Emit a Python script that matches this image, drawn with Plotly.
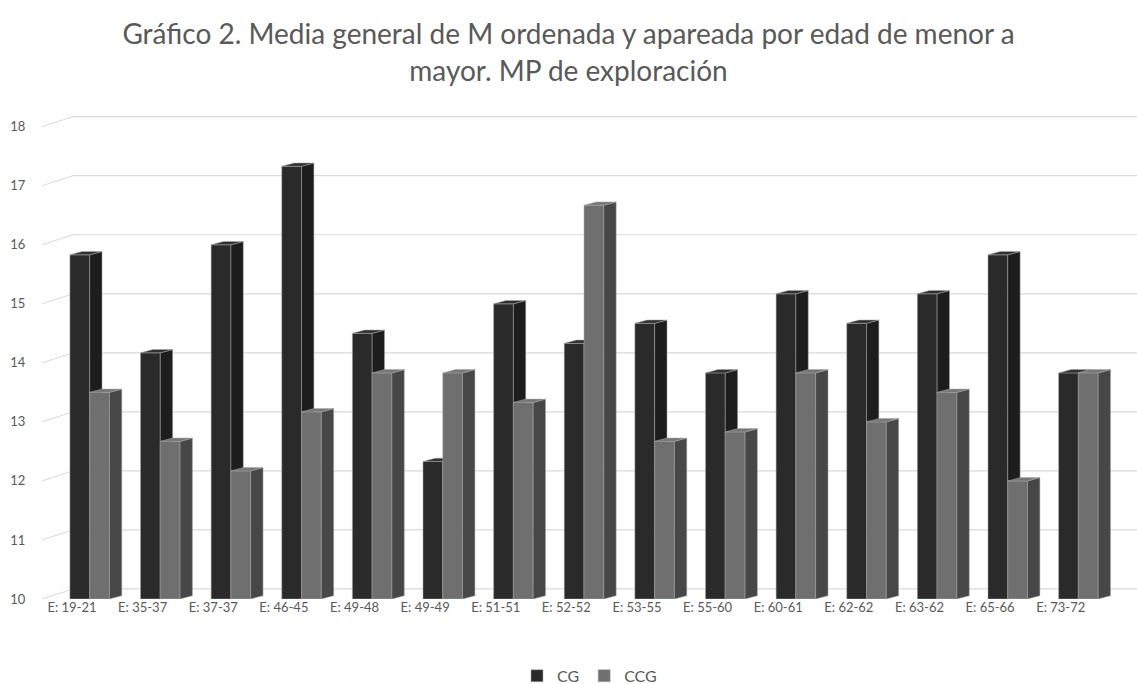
import plotly.graph_objects as go

categories = ["E: 19-21", "E: 35-37", "E: 37-37", "E: 46-45", "E: 49-48", "E: 49-49",
              "E: 51-51", "E: 52-52", "E: 53-55", "E: 55-60", "E: 60-61", "E: 62-62",
              "E: 63-62", "E: 65-66", "E: 73-72"]
cg_values = [15.83, 14.17, 16.00, 17.33, 14.50, 12.33, 15.00, 14.33, 14.67, 13.83,
             15.17, 14.67, 15.17, 15.83, 13.83]
ccg_values = [13.50, 12.67, 12.17, 13.17, 13.83, 13.83, 13.33, 16.67, 12.67, 12.83,
              13.83, 13.00, 13.50, 12.00, 13.83]
y_ticks = [10, 11, 12, 13, 14, 15, 16, 17, 18]
series_names = ["CG", "CCG"]

# style / geometry constants (not data)
BASE = 10
FRONT_W = 0.28
DEPTH_X = 0.175   # side-face depth in category units
DEPTH_Y = 0.056   # side-face rise in value units
OFFSETS = [-0.03, 0.25]
FRONT_COL = ["#2a2a2a", "#6f6f6f"]
SIDE_COL = ["#1d1d1d", "#474747"]
TOP_COL = ["#303030", "#767676"]
EDGE = "#a8a8a8"
GRID_RISE = 0.17
GRID_START = 0.0283

xs = list(range(len(categories)))
fig = go.Figure()

for k, (name, vals) in enumerate(zip(series_names, [cg_values, ccg_values])):
    xa = "x" if k == 0 else "x2"
    fig.add_trace(go.Bar(
        x=xs, y=[v - BASE for v in vals], base=BASE, name=name,
        offset=OFFSETS[k], width=FRONT_W, xaxis=xa, yaxis="y",
        marker=dict(color=FRONT_COL[k], line=dict(color=EDGE, width=0.5)),
        hoverinfo="skip",
    ))
    sx, sy, tx, ty = [], [], [], []
    for i, v in zip(xs, vals):
        x0 = i + OFFSETS[k]
        x1 = x0 + FRONT_W
        sx += [x1, x1 + DEPTH_X, x1 + DEPTH_X, x1, x1, None]
        sy += [BASE, BASE + DEPTH_Y, v + DEPTH_Y, v, BASE, None]
        tx += [x0, x0 + DEPTH_X, x1 + DEPTH_X, x1, x0, None]
        ty += [v, v + DEPTH_Y, v + DEPTH_Y, v, v, None]
    fig.add_trace(go.Scatter(x=sx, y=sy, fill="toself", mode="lines",
                             fillcolor=SIDE_COL[k], line=dict(color=EDGE, width=0.5),
                             xaxis=xa, yaxis="y", showlegend=False, hoverinfo="skip"))
    fig.add_trace(go.Scatter(x=tx, y=ty, fill="toself", mode="lines",
                             fillcolor=TOP_COL[k], line=dict(color=EDGE, width=0.5),
                             xaxis=xa, yaxis="y", showlegend=False, hoverinfo="skip"))

shapes = []
for t in y_ticks:
    shapes.append(dict(type="line", xref="paper", yref="y", x0=0, x1=GRID_START,
                       y0=t, y1=t + GRID_RISE, line=dict(color="#d9d9d9", width=1),
                       layer="below"))
    shapes.append(dict(type="line", xref="paper", yref="y", x0=GRID_START, x1=1,
                       y0=t + GRID_RISE, y1=t + GRID_RISE,
                       line=dict(color="#d9d9d9", width=1.2), layer="below"))

fig.update_layout(
    width=1137, height=684,
    margin=dict(l=42, r=0, t=109, b=85, autoexpand=False),
    paper_bgcolor="white", plot_bgcolor="white",
    font=dict(family="Lato", color="#595959"),
    title=dict(text="Gráfico 2. Media general de M ordenada y apareada por edad de menor a<br>mayor. MP de exploración",
               x=0.5, xanchor="center", y=0.935, yanchor="middle",
               font=dict(size=28, color="#595959", family="Lato")),
    barmode="overlay",
    xaxis=dict(range=[-0.425, 15.08], tickmode="array", tickvals=xs, ticktext=categories,
               showgrid=False, zeroline=False, showline=False,
               ticks="", ticklabelstandoff=-1,
               tickfont=dict(size=13, color="#595959")),
    xaxis2=dict(overlaying="x", matches="x", visible=False),
    yaxis=dict(range=[BASE, 18.3], tickmode="array", tickvals=y_ticks,
               showgrid=False, zeroline=False, showline=False,
               ticks="outside", ticklen=13, tickcolor="rgba(0,0,0,0)",
               tickfont=dict(size=13, color="#595959")),
    shapes=shapes,
    legend=dict(orientation="h", x=0.5, xanchor="center", y=0.012, yanchor="middle",
                yref="container", font=dict(size=16, color="#595959"), itemwidth=30),
    showlegend=True,
)

fig.write_html("out.html")
